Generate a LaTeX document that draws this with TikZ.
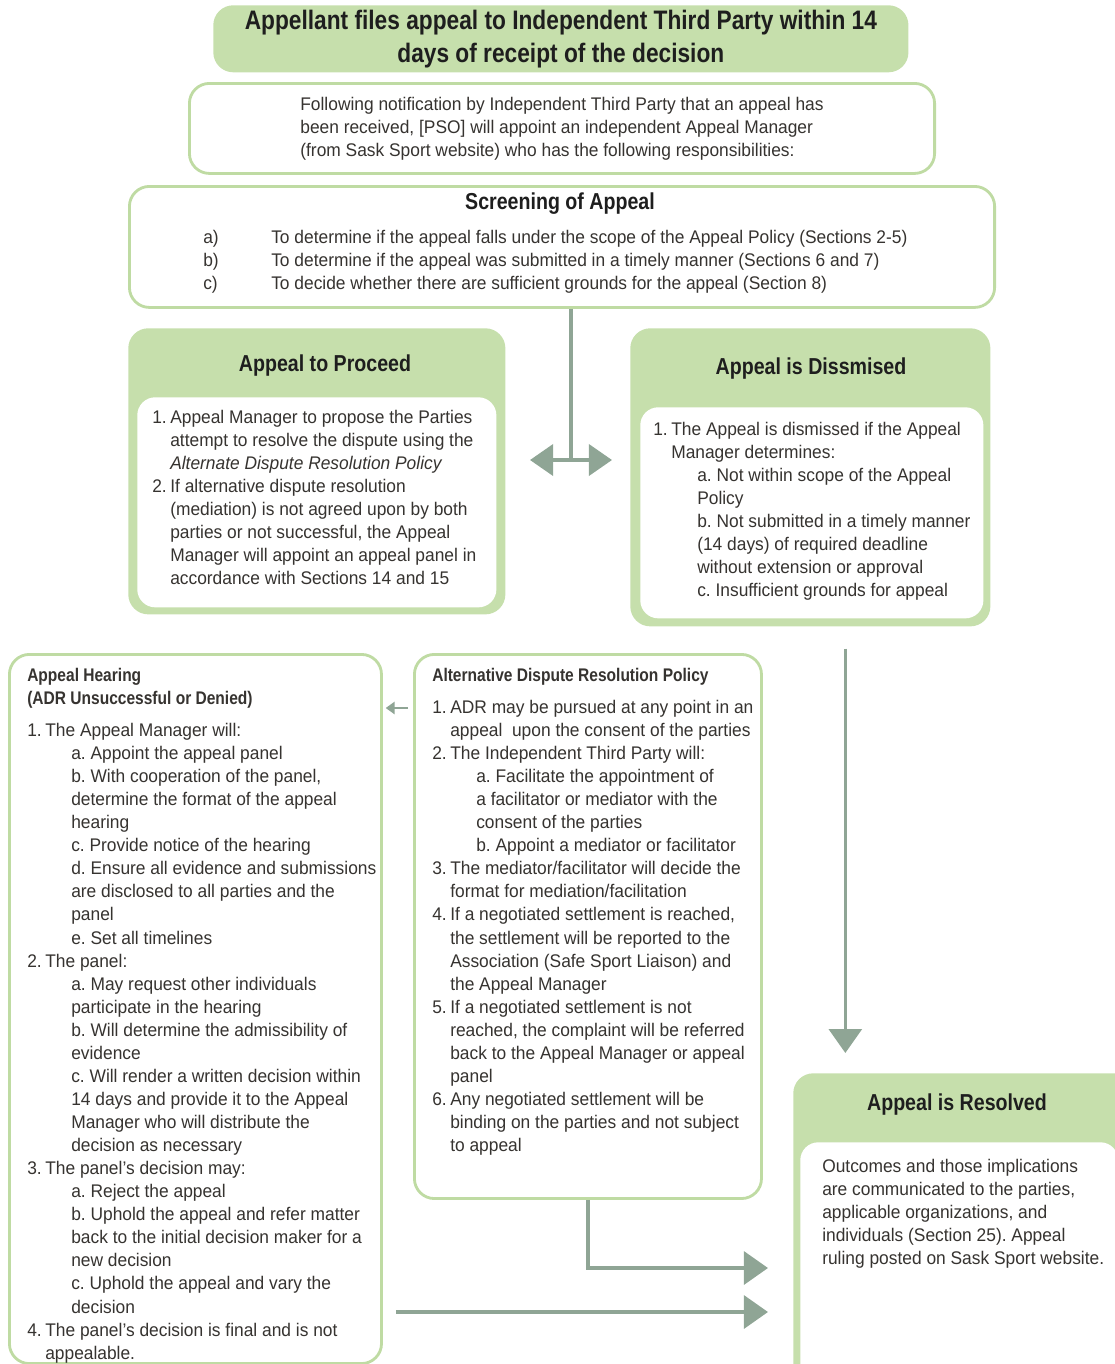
\documentclass[tikz,border=0pt]{standalone}
\usepackage{fontspec}
\setmainfont{Liberation Sans}[FakeStretch=0.95,BoldFeatures={FakeStretch=0.85}]
\usetikzlibrary{positioning,arrows.meta}
\frenchspacing

\definecolor{boxgreen}{HTML}{C6DFAC}
\definecolor{edgegreen}{HTML}{BFDBA3}
\definecolor{arrowgrey}{HTML}{8FA595}
\definecolor{textgrey}{HTML}{363330}
\definecolor{titlegrey}{HTML}{1E1E1E}

% list helpers: number, continuation and sub item indents
\newcommand{\nitem}[1]{\makebox[0.45cm][l]{#1}}
\newcommand{\cont}{\hspace*{0.45cm}}
\newcommand{\subi}{\hspace*{1.1cm}}

\begin{document}
\begin{tikzpicture}[x=0.025cm, y=-0.025cm,
greenbox/.style={fill=boxgreen, rounded corners=0.5cm, anchor=north west, inner sep=0pt},
whitebox/.style={fill=white, rounded corners=0.45cm, anchor=north west, inner sep=0pt},
linebox/.style={fill=white, draw=edgegreen, line width=2pt, rounded corners=0.5cm, anchor=north west, inner sep=0pt},
bigtitle/.style={font=\bfseries\fontsize{19pt}{23.4pt}\selectfont, text=titlegrey, align=center},
boxtitle/.style={font=\bfseries\fontsize{16.4pt}{19pt}\selectfont, text=titlegrey},
body/.style={font=\fontsize{13pt}{16.4pt}\selectfont, text=textgrey, align=left, anchor=north west, inner sep=0pt},
link/.style={draw=arrowgrey, line width=2.6pt},
flow/.style={link, -{Triangle[length=0.6cm, width=0.82cm]}},
twoway/.style={link, {Triangle[length=0.58cm, width=0.78cm]}-{Triangle[length=0.58cm, width=0.78cm]}},
smallflow/.style={draw=arrowgrey, line width=1.5pt, -{Triangle[length=0.22cm, width=0.3cm]}}
]
\path[use as bounding box, clip] (0,0) rectangle (1115,1364);

% top of the flow
\node[greenbox, bigtitle, minimum width=17.375cm, minimum height=1.675cm] (filing) at (213,5)
  {Appellant files appeal to Independent Third Party within 14\\days of receipt of the decision};
\node[linebox, body, minimum width=18.625cm, minimum height=2.25cm] (notice) at (188,82)
  {Following notification by Independent Third Party that an appeal has\\
   been received, [PSO] will appoint an independent Appeal Manager\\
   (from Sask Sport website) who has the following responsibilities:};

% screening
\node[linebox, minimum width=21.625cm, minimum height=3.025cm] (screen) at (128,185) {};
\node[boxtitle] (screentitle) at (560,204) {Screening of Appeal};
\node[body] (screenlist) at (203,230)
  {\makebox[1.7cm][l]{a)}To determine if the appeal falls under the scope of the Appeal Policy (Sections 2-5)\\
   \makebox[1.7cm][l]{b)}To determine if the appeal was submitted in a timely manner (Sections 6 and 7)\\
   \makebox[1.7cm][l]{c)}To decide whether there are sufficient grounds for the appeal (Section 8)};

% proceed / dismissed
\node[greenbox, minimum width=9.425cm, minimum height=7.15cm] (proceed) at (128,328) {};
\node[boxtitle] (proceedtitle) at (325,366) {Appeal to Proceed};
\node[whitebox, minimum width=8.975cm, minimum height=5.25cm] (proceedin) at (137,397) {};
\node[body] (proceedtext) at (152,410)
  {\nitem{1.}Appeal Manager to propose the Parties\\
   \cont attempt to resolve the dispute using the\\
   \cont\textit{Alternate Dispute Resolution Policy}\\
   \nitem{2.}If alternative dispute resolution\\
   \cont(mediation) is not agreed upon by both\\
   \cont parties or not successful, the Appeal\\
   \cont Manager will appoint an appeal panel in\\
   \cont accordance with Sections 14 and 15};

\node[greenbox, minimum width=9cm, minimum height=7.45cm] (dismiss) at (630,328) {};
\node[boxtitle] (dismisstitle) at (811,369) {Appeal is Dissmised};
\node[whitebox, minimum width=8.575cm, minimum height=5.275cm] (dismissin) at (640,407) {};
\node[body] (dismisstext) at (653,422)
  {\nitem{1.}The Appeal is dismissed if the Appeal\\
   \cont Manager determines:\\
   \subi a. Not within scope of the Appeal\\
   \subi Policy\\
   \subi b. Not submitted in a timely manner\\
   \subi (14 days) of required deadline\\
   \subi without extension or approval\\
   \subi c. Insufficient grounds for appeal};

% hearing and ADR
\node[linebox, minimum width=9.3cm, minimum height=17.725cm] (hearing) at (8,653) {};
\node[body] (hearingtext) at (27,668)
  {\textbf{Appeal Hearing}\\
   \textbf{(ADR Unsuccessful or Denied)}\\[0.22cm]
   \nitem{1.}The Appeal Manager will:\\
   \subi a. Appoint the appeal panel\\
   \subi b. With cooperation of the panel,\\
   \subi determine the format of the appeal\\
   \subi hearing\\
   \subi c. Provide notice of the hearing\\
   \subi d. Ensure all evidence and submissions\\
   \subi are disclosed to all parties and the\\
   \subi panel\\
   \subi e. Set all timelines\\
   \nitem{2.}The panel:\\
   \subi a. May request other individuals\\
   \subi participate in the hearing\\
   \subi b. Will determine the admissibility of\\
   \subi evidence\\
   \subi c. Will render a written decision within\\
   \subi 14 days and provide it to the Appeal\\
   \subi Manager who will distribute the\\
   \subi decision as necessary\\
   \nitem{3.}The panel’s decision may:\\
   \subi a. Reject the appeal\\
   \subi b. Uphold the appeal and refer matter\\
   \subi back to the initial decision maker for a\\
   \subi new decision\\
   \subi c. Uphold the appeal and vary the\\
   \subi decision\\
   \nitem{4.}The panel’s decision is final and is not\\
   \cont appealable.};

\node[linebox, minimum width=8.675cm, minimum height=13.6cm] (adr) at (413,653) {};
\node[body] (adrtext) at (432,668)
  {\textbf{Alternative Dispute Resolution Policy}\\[0.22cm]
   \nitem{1.}ADR may be pursued at any point in an\\
   \cont appeal\ \ upon the consent of the parties\\
   \nitem{2.}The Independent Third Party will:\\
   \subi a. Facilitate the appointment of\\
   \subi a facilitator or mediator with the\\
   \subi consent of the parties\\
   \subi b. Appoint a mediator or facilitator\\
   \nitem{3.}The mediator/facilitator will decide the\\
   \cont format for mediation/facilitation\\
   \nitem{4.}If a negotiated settlement is reached,\\
   \cont the settlement will be reported to the\\
   \cont Association (Safe Sport Liaison) and\\
   \cont the Appeal Manager\\
   \nitem{5.}If a negotiated settlement is not\\
   \cont reached, the complaint will be referred\\
   \cont back to the Appeal Manager or appeal\\
   \cont panel\\
   \nitem{6.}Any negotiated settlement will be\\
   \cont binding on the parties and not subject\\
   \cont to appeal};

% resolved
\node[greenbox, minimum width=8.5cm, minimum height=8cm] (resolved) at (793,1073) {};
\node[boxtitle] (resolvedtitle) at (957,1105) {Appeal is Resolved};
\node[whitebox, minimum width=7.95cm, minimum height=6cm] (resolvedin) at (800,1142) {};
\node[body] (resolvedtext) at (822,1159)
  {Outcomes and those implications\\
   are communicated to the parties,\\
   applicable organizations, and\\
   individuals (Section 25). Appeal\\
   ruling posted on Sask Sport website.};

% connectors
\coordinate (split) at (571,460);
\coordinate (lefttip) at (530,460);
\coordinate (righttip) at (612,460);
\coordinate (inadr) at (793,1268);
\coordinate (inhearing) at (793,1312);
\draw[link] (screen.south -| split) -- (split);
\draw[twoway] (lefttip) -- (righttip);
\draw[flow, shorten <=0.55cm, shorten >=0.5cm] ([xshift=0.875cm]dismiss.south) -- ([xshift=0.875cm]dismiss.south |- resolved.north);
\draw[smallflow, shorten <=0.12cm, shorten >=0.07cm] (adr.west |- 0,708) -- (hearing.east |- 0,708);
\draw[flow, shorten >=0.625cm] (adr.south) |- (inadr);
\draw[flow, shorten <=0.325cm, shorten >=0.625cm] (hearing.east |- inhearing) -- (inhearing);
\end{tikzpicture}
\end{document}
